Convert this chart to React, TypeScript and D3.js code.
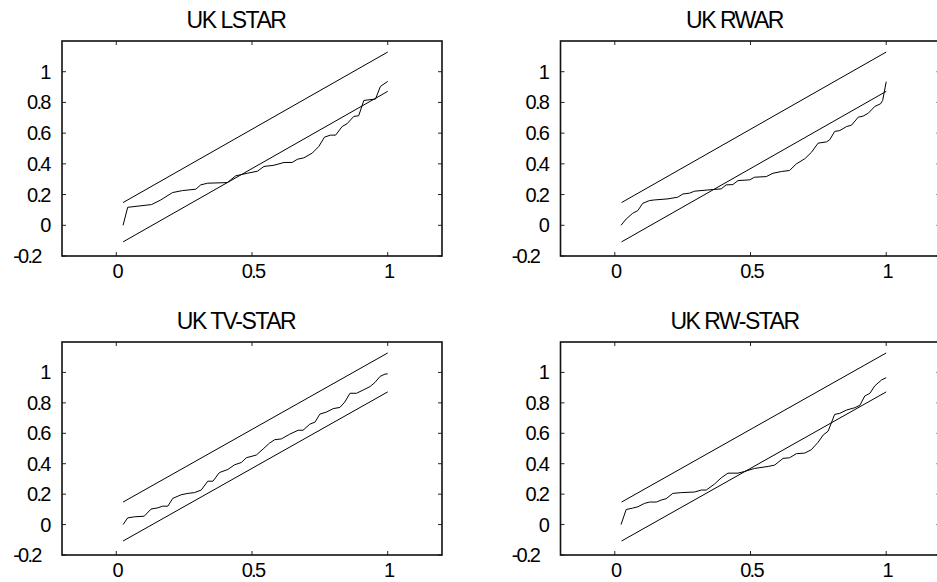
import React, { useEffect, useRef } from "react";
import * as d3 from "d3";

// panel titles and axis ticks
const titles = ["UK LSTAR", "UK RWAR", "UK TV-STAR", "UK RW-STAR"];
const xTicks = [0, 0.5, 1];
const yTicks = [-0.2, 0, 0.2, 0.4, 0.6, 0.8, 1];

// 5% bands (straight lines), same for every panel
const bandX = [0.025, 1];
const upperBand = [0.148, 1.128];
const lowerBand = [-0.108, 0.872];

// cusum of squares
const lstar: [number, number][] = [
  [0.025, 0], [0.042, 0.117], [0.13, 0.135], [0.164, 0.165], [0.207, 0.213],
  [0.244, 0.226], [0.293, 0.235], [0.311, 0.263], [0.336, 0.274], [0.409, 0.278],
  [0.44, 0.322], [0.483, 0.339], [0.52, 0.352], [0.544, 0.383], [0.581, 0.391],
  [0.618, 0.409], [0.648, 0.409], [0.667, 0.43], [0.691, 0.439], [0.722, 0.47],
  [0.746, 0.513], [0.767, 0.574], [0.789, 0.587], [0.808, 0.587], [0.832, 0.643],
  [0.85, 0.661], [0.875, 0.709], [0.893, 0.713], [0.912, 0.813], [0.955, 0.822],
  [0.973, 0.904], [1.0, 0.937],
];

const rwar: [number, number][] = [
  [0.023, 0], [0.042, 0.041], [0.066, 0.078], [0.085, 0.096], [0.103, 0.143],
  [0.128, 0.161], [0.146, 0.165], [0.196, 0.172], [0.232, 0.183], [0.251, 0.204],
  [0.275, 0.209], [0.294, 0.222], [0.343, 0.23], [0.392, 0.237], [0.41, 0.263],
  [0.435, 0.265], [0.454, 0.291], [0.497, 0.296], [0.515, 0.313], [0.558, 0.317],
  [0.583, 0.339], [0.614, 0.35], [0.644, 0.357], [0.669, 0.4], [0.7, 0.433],
  [0.724, 0.474], [0.749, 0.535], [0.78, 0.543], [0.792, 0.557], [0.81, 0.611],
  [0.829, 0.617], [0.854, 0.643], [0.872, 0.652], [0.897, 0.704], [0.915, 0.711],
  [0.934, 0.73], [0.958, 0.774], [0.979, 0.791], [0.987, 0.813], [1.0, 0.935],
];

const tvstar: [number, number][] = [
  [0.025, 0], [0.042, 0.044], [0.067, 0.051], [0.103, 0.055], [0.128, 0.102],
  [0.153, 0.11], [0.171, 0.121], [0.19, 0.121], [0.208, 0.172], [0.239, 0.196],
  [0.264, 0.205], [0.288, 0.21], [0.313, 0.227], [0.337, 0.285], [0.356, 0.285],
  [0.38, 0.342], [0.411, 0.362], [0.436, 0.393], [0.461, 0.408], [0.479, 0.439],
  [0.516, 0.457], [0.541, 0.497], [0.565, 0.536], [0.584, 0.558], [0.608, 0.563],
  [0.639, 0.594], [0.67, 0.62], [0.688, 0.62], [0.713, 0.66], [0.732, 0.673],
  [0.75, 0.726], [0.775, 0.74], [0.799, 0.762], [0.824, 0.77], [0.842, 0.806],
  [0.861, 0.863], [0.885, 0.863], [0.916, 0.89], [0.935, 0.907], [0.953, 0.934],
  [0.972, 0.974], [0.99, 0.989], [1.0, 0.991],
];

const rwstar: [number, number][] = [
  [0.023, 0], [0.042, 0.099], [0.066, 0.108], [0.085, 0.117], [0.109, 0.139],
  [0.128, 0.148], [0.153, 0.148], [0.171, 0.161], [0.189, 0.17], [0.214, 0.205],
  [0.245, 0.21], [0.294, 0.214], [0.319, 0.227], [0.337, 0.227], [0.368, 0.267],
  [0.392, 0.307], [0.417, 0.338], [0.454, 0.338], [0.478, 0.349], [0.515, 0.369],
  [0.565, 0.382], [0.589, 0.391], [0.62, 0.435], [0.644, 0.439], [0.669, 0.466],
  [0.7, 0.47], [0.724, 0.492], [0.749, 0.541], [0.768, 0.589], [0.786, 0.614],
  [0.81, 0.724], [0.829, 0.731], [0.854, 0.753], [0.884, 0.768], [0.903, 0.784],
  [0.921, 0.845], [0.94, 0.863], [0.958, 0.912], [0.983, 0.951], [1.0, 0.965],
];

const series = [lstar, rwar, tvstar, rwstar];

// frame boxes of the 2x2 grid
const panels = [
  { left: 62, top: 41, width: 380, height: 215 },
  { left: 560.5, top: 41, width: 380, height: 215 },
  { left: 62, top: 342, width: 380, height: 213 },
  { left: 560.5, top: 342, width: 380, height: 213 },
];

const font = "'Liberation Sans', Arial, sans-serif";

const App = () => {
  const ref = useRef<SVGSVGElement>(null);

  useEffect(() => {
    const svg = d3.select(ref.current);
    svg.selectAll("*").remove();

    panels.forEach((p, i) => {
      const x = d3.scaleLinear().domain([-0.2, 1.2]).range([p.left, p.left + p.width]);
      const y = d3.scaleLinear().domain([-0.2, 1.2]).range([p.top + p.height, p.top]);
      const g = svg.append("g");

      // title
      g.append("text")
        .attr("x", p.left + p.width / 2 - 16)
        .attr("y", p.top - 13.5)
        .attr("text-anchor", "middle")
        .style("font-family", font)
        .style("font-size", "23px")
        .style("letter-spacing", "-1.5px")
        .text(titles[i]);

      // inward ticks on all four sides
      const tk = 4;
      g.selectAll(".yt")
        .data(yTicks)
        .enter()
        .append("path")
        .attr("d", (d) => `M${p.left},${y(d)}h${tk}M${p.left + p.width},${y(d)}h${-tk}`)
        .attr("stroke", "#222")
        .attr("stroke-width", 1);
      g.selectAll(".xt")
        .data(xTicks)
        .enter()
        .append("path")
        .attr("d", (d) => `M${x(d)},${p.top}v${tk}M${x(d)},${p.top + p.height}v${-tk}`)
        .attr("stroke", "#222")
        .attr("stroke-width", 1);

      // tick labels (tight spacing like the original print)
      g.selectAll(".yl")
        .data(yTicks)
        .enter()
        .append("text")
        .attr("x", (d) => p.left - 12.5 - (d < 0 ? 9 : 0))
        .attr("y", (d) => y(d) + 7)
        .attr("text-anchor", "end")
        .style("font-family", font)
        .style("font-size", "20px")
        .style("letter-spacing", "-1.8px")
        .text((d) => String(d));
      g.selectAll(".xl")
        .data(xTicks)
        .enter()
        .append("text")
        .attr("x", (d) => x(d) + 1)
        .attr("y", p.top + p.height + 22)
        .attr("text-anchor", "middle")
        .style("font-family", font)
        .style("font-size", "20px")
        .style("letter-spacing", "-1.8px")
        .text((d) => String(d));

      // bands
      const band = d3.line<number>().x((d, j) => x(bandX[j])).y((d) => y(d));
      [upperBand, lowerBand].forEach((b) => {
        g.append("path")
          .attr("d", band(b))
          .attr("fill", "none")
          .attr("stroke", "#000")
          .attr("stroke-width", 1);
      });

      // cusum path
      const line = d3.line<[number, number]>().x((d) => x(d[0])).y((d) => y(d[1]));
      g.append("path")
        .attr("d", line(series[i]))
        .attr("fill", "none")
        .attr("stroke", "#000")
        .attr("stroke-width", 1);

      // frame
      g.append("rect")
        .attr("x", p.left)
        .attr("y", p.top)
        .attr("width", p.width)
        .attr("height", p.height)
        .attr("fill", "none")
        .attr("stroke", "#111")
        .attr("stroke-width", 1.6);
    });
  }, []);

  return (
    <svg
      ref={ref}
      width={937}
      height={582}
      style={{ position: "absolute", left: 0, top: 0, background: "#fff" }}
    ></svg>
  );
};

export default App;
